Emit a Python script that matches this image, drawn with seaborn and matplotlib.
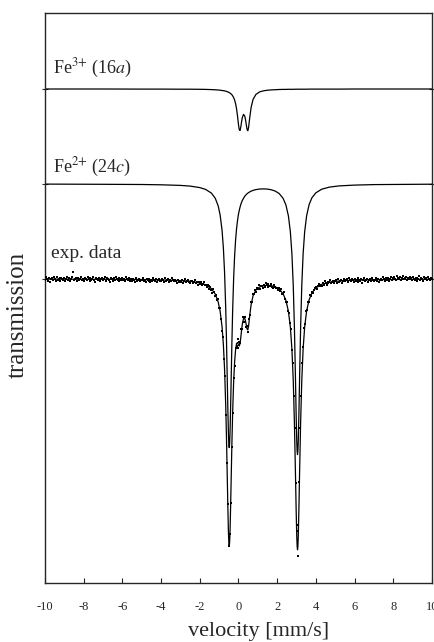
import numpy as np
import pandas as pd
import matplotlib
matplotlib.use("Agg")
import matplotlib.pyplot as plt
import seaborn as sns

# velocity grid of the fitted curves (mm/s)
vel_fit = [-10, -7, -5, -4, -3, -2.5, -2, -1.7, -1.4, -1.2,
           -1.05, -0.95, -0.85, -0.78, -0.72, -0.66, -0.62, -0.58, -0.55, -0.52,
           -0.50, -0.48, -0.46, -0.44, -0.41, -0.38, -0.34, -0.30, -0.25, -0.20,
           -0.15, -0.10, -0.05, 0.0, 0.04, 0.08, 0.12, 0.16, 0.20, 0.26,
           0.32, 0.36, 0.40, 0.44, 0.48, 0.52, 0.58, 0.65, 0.75, 0.9,
           1.1, 1.3, 1.5, 1.7, 1.9, 2.1, 2.3, 2.45, 2.58, 2.68,
           2.76, 2.83, 2.89, 2.94, 2.98, 3.01, 3.03, 3.05, 3.07, 3.09,
           3.12, 3.16, 3.21, 3.27, 3.34, 3.42, 3.52, 3.65, 3.8, 4.0,
           4.3, 4.7, 5.2, 6, 7, 8.5, 10]

# Fe3+ (16a) sub-spectrum
fe3_trans = [1.0000, 1.0000, 0.9999, 0.9999, 0.9998, 0.9998, 0.9997, 0.9996, 0.9994, 0.9992,
             0.9990, 0.9988, 0.9985, 0.9983, 0.9981, 0.9978, 0.9976, 0.9973, 0.9971, 0.9968,
             0.9966, 0.9964, 0.9962, 0.9959, 0.9955, 0.9950, 0.9942, 0.9931, 0.9914, 0.9889,
             0.9853, 0.9801, 0.9728, 0.9643, 0.9593, 0.9585, 0.9621, 0.9673, 0.9716, 0.9746,
             0.9731, 0.9696, 0.9647, 0.9599, 0.9583, 0.9614, 0.9712, 0.9813, 0.9895, 0.9946,
             0.9972, 0.9982, 0.9988, 0.9991, 0.9993, 0.9995, 0.9996, 0.9996, 0.9997, 0.9997,
             0.9997, 0.9997, 0.9997, 0.9998, 0.9998, 0.9998, 0.9998, 0.9998, 0.9998, 0.9998,
             0.9998, 0.9998, 0.9998, 0.9998, 0.9998, 0.9998, 0.9998, 0.9999, 0.9999, 0.9999,
             0.9999, 0.9999, 0.9999, 1.0000, 1.0000, 1.0000, 1.0000]

# Fe2+ (24c) sub-spectrum
fe2_trans = [0.9999, 0.9997, 0.9995, 0.9992, 0.9986, 0.9979, 0.9964, 0.9946, 0.9909, 0.9857,
             0.9781, 0.9691, 0.9537, 0.9355, 0.9116, 0.8754, 0.8427, 0.8040, 0.7745, 0.7502,
             0.7400, 0.7364, 0.7400, 0.7502, 0.7745, 0.8039, 0.8426, 0.8753, 0.9064, 0.9284,
             0.9441, 0.9554, 0.9636, 0.9699, 0.9737, 0.9769, 0.9796, 0.9817, 0.9836, 0.9858,
             0.9876, 0.9886, 0.9894, 0.9902, 0.9908, 0.9914, 0.9921, 0.9928, 0.9936, 0.9944,
             0.9950, 0.9951, 0.9949, 0.9942, 0.9929, 0.9905, 0.9858, 0.9791, 0.9680, 0.9522,
             0.9302, 0.8984, 0.8562, 0.8090, 0.7685, 0.7435, 0.7331, 0.7294, 0.7331, 0.7436,
             0.7686, 0.8091, 0.8562, 0.8985, 0.9304, 0.9524, 0.9682, 0.9795, 0.9864, 0.9912,
             0.9948, 0.9969, 0.9981, 0.9989, 0.9994, 0.9996, 0.9998]

# total fit through the measured spectrum
fit_trans = [0.9999, 0.9997, 0.9995, 0.9991, 0.9984, 0.9977, 0.9961, 0.9942, 0.9903, 0.9849,
             0.9770, 0.9679, 0.9522, 0.9339, 0.9097, 0.8732, 0.8403, 0.8013, 0.7716, 0.7470,
             0.7366, 0.7328, 0.7362, 0.7461, 0.7700, 0.7989, 0.8368, 0.8684, 0.8978, 0.9173,
             0.9294, 0.9355, 0.9364, 0.9342, 0.9330, 0.9355, 0.9417, 0.9490, 0.9552, 0.9604,
             0.9607, 0.9582, 0.9541, 0.9501, 0.9491, 0.9528, 0.9633, 0.9741, 0.9831, 0.9890,
             0.9921, 0.9933, 0.9937, 0.9933, 0.9922, 0.9900, 0.9854, 0.9787, 0.9676, 0.9519,
             0.9300, 0.8981, 0.8559, 0.8088, 0.7683, 0.7433, 0.7329, 0.7292, 0.7329, 0.7434,
             0.7684, 0.8089, 0.8560, 0.8983, 0.9302, 0.9522, 0.9680, 0.9793, 0.9863, 0.9911,
             0.9947, 0.9968, 0.9980, 0.9989, 0.9993, 0.9996, 0.9998]

# measured spectrum, one value per channel, -10 ... 10 mm/s in 0.05 steps
exp_trans = [
    0.999, 1.002, 1.000, 0.998, 1.001, 0.997, 1.000, 1.001, 0.999, 1.002,
    1.000, 0.998, 1.002, 0.999, 1.000, 1.001, 0.998, 1.001, 1.000, 0.999,
    1.001, 0.998, 1.000, 1.002, 0.999, 1.001, 0.998, 1.000, 1.002, 1.007,
    0.999, 1.000, 1.001, 0.998, 1.001, 0.999, 1.000, 1.002, 0.999, 1.000,
    0.998, 1.001, 1.000, 0.999, 1.002, 1.000, 0.998, 1.001, 0.999, 1.000,
    1.002, 0.999, 0.997, 1.001, 1.000, 0.999, 1.001, 0.998, 1.000, 1.001,
    0.999, 1.000, 1.002, 0.998, 1.001, 1.000, 0.999, 0.997, 1.001, 1.000,
    0.998, 1.001, 0.999, 1.002, 1.000, 0.999, 0.998, 1.001, 1.000, 0.999,
    1.001, 0.999, 1.000, 0.998, 1.002, 1.000, 0.999, 1.001, 0.998, 1.000,
    0.998, 1.000, 0.999, 0.997, 1.001, 0.998, 0.999, 1.000, 0.998, 0.999,
    0.999, 1.001, 0.998, 0.999, 0.997, 1.000, 0.999, 0.998, 1.000, 0.997,
    0.999, 0.998, 1.001, 0.999, 0.998, 1.000, 0.997, 0.999, 1.000, 0.998,
    0.998, 1.000, 0.999, 0.997, 1.001, 0.998, 0.999, 1.000, 0.997, 0.999,
    0.998, 1.001, 0.999, 0.998, 0.999, 0.998, 0.996, 0.999, 0.997, 0.998,
    0.998, 0.997, 0.999, 0.996, 0.998, 1.000, 0.997, 0.998, 0.999, 0.997,
    0.996, 0.998, 0.998, 0.996, 0.997, 0.999, 0.996, 0.997, 0.994, 0.997,
    0.995, 0.997, 0.994, 0.995, 0.997, 0.994, 0.994, 0.992, 0.994, 0.993,
    0.990, 0.992, 0.989, 0.986, 0.990, 0.987, 0.983, 0.984, 0.979, 0.980,
    0.971, 0.971, 0.960, 0.948, 0.942, 0.920, 0.903, 0.864, 0.816, 0.775,
    0.733, 0.745, 0.776, 0.832, 0.866, 0.901, 0.913, 0.931, 0.933, 0.940,
    0.931, 0.937, 0.936, 0.950, 0.950, 0.962, 0.957, 0.962, 0.952, 0.953,
    0.947, 0.960, 0.964, 0.977, 0.977, 0.985, 0.985, 0.989, 0.987, 0.991,
    0.990, 0.994, 0.990, 0.993, 0.993, 0.991, 0.994, 0.992, 0.996, 0.994,
    0.992, 0.995, 0.993, 0.993, 0.995, 0.992, 0.991, 0.994, 0.992, 0.991,
    0.991, 0.989, 0.991, 0.988, 0.990, 0.985, 0.985, 0.987, 0.980, 0.977,
    0.977, 0.968, 0.966, 0.956, 0.950, 0.929, 0.916, 0.883, 0.851, 0.796,
    0.748, 0.723, 0.754, 0.797, 0.851, 0.883, 0.916, 0.932, 0.951, 0.955,
    0.968, 0.969, 0.977, 0.977, 0.984, 0.983, 0.987, 0.986, 0.989, 0.991,
    0.992, 0.990, 0.993, 0.995, 0.993, 0.994, 0.993, 0.996, 0.994, 0.998,
    0.996, 0.994, 0.997, 0.996, 0.997, 0.999, 0.996, 0.997, 0.998, 0.996,
    0.998, 0.999, 0.996, 1.000, 0.997, 0.998, 0.999, 0.996, 0.998, 1.000,
    0.998, 0.999, 1.000, 0.997, 1.001, 0.999, 0.998, 1.000, 0.999, 0.997,
    1.000, 0.998, 0.999, 0.997, 1.001, 0.999, 0.998, 1.000, 0.996, 0.999,
    1.001, 0.998, 0.999, 1.000, 0.997, 0.999, 1.000, 0.998, 1.001, 0.999,
    0.998, 0.999, 1.001, 0.998, 1.000, 0.997, 0.999, 1.000, 0.999, 1.002,
    1.000, 0.998, 1.001, 1.000, 0.999, 1.001, 0.998, 1.000, 1.002, 0.999,
    1.001, 1.002, 1.000, 0.999, 1.003, 1.001, 1.000, 1.002, 0.999, 1.001,
    1.003, 1.000, 1.001, 1.002, 0.999, 1.001, 1.000, 1.002, 1.001, 0.999,
    1.002, 1.000, 0.999, 1.001, 0.998, 1.001, 1.000, 1.003, 0.999, 1.001,
    1.000, 0.998, 1.002, 1.000, 1.001, 0.999, 1.002, 1.000, 0.999, 1.001,
    1.000]
assert len(exp_trans) == 401, len(exp_trans)
vel_exp = np.linspace(-10, 10, len(exp_trans))

# vertical shift of the stacked sub-spectra
offset_fe2 = 0.095
offset_fe3 = 0.19

sns.set_style("ticks")
plt.rcParams["font.family"] = ["Liberation Serif", "DejaVu Serif"]
plt.rcParams["mathtext.fontset"] = "stix"
plt.rcParams["axes.unicode_minus"] = False

fig = plt.figure(figsize=(4.35, 6.42), dpi=100)
ax = fig.add_axes([45 / 435, 1 - 583 / 642, 387 / 435, 570 / 642])

fits = pd.DataFrame({"velocity": vel_fit, "fe3": fe3_trans,
                     "fe2": fe2_trans, "fit": fit_trans})
fits["fe3"] += offset_fe3
fits["fe2"] += offset_fe2
meas = pd.DataFrame({"velocity": vel_exp, "trans": exp_trans})

for col in ["fe3", "fe2", "fit"]:
    sns.lineplot(data=fits, x="velocity", y=col, color="black", lw=0.9,
                 estimator=None, sort=False, ax=ax)
sns.scatterplot(data=meas, x="velocity", y="trans", color="black", marker="s",
                s=4, linewidth=0, ax=ax, zorder=3)

ax.text(-9.6, 1.0 + offset_fe3 + 0.016, "Fe$^{3{+}}$ (16$a$)", fontsize=13)
ax.text(-9.6, 1.0 + offset_fe2 + 0.012, "Fe$^{2{+}}$ (24$c$)", fontsize=13)
ax.text(-9.7, 1.021, "exp. data", fontsize=14)

ax.set_xlim(-10, 10)
ax.set_ylim(0.696, 1.266)
ax.set_xticks(np.arange(-10, 11, 2))
ax.set_yticks([1.0, 1.0 + offset_fe2, 1.0 + offset_fe3])
ax.set_yticklabels([])
ax.tick_params(axis="x", direction="in", length=3.5, width=0.8, labelsize=9,
               pad=13, top=False)
ax.tick_params(axis="y", direction="inout", length=4, width=0.8, left=True,
               right=True)
for sp in ax.spines.values():
    sp.set_visible(True)
    sp.set_linewidth(1.0)

ax.set_xlabel("velocity [mm/s]", fontsize=16)
ax.xaxis.set_label_coords((258.5 - 45) / 387, -0.068)
ax.set_ylabel("transmission", fontsize=18)
ax.yaxis.set_label_coords(-0.041, 0.47)

fig.savefig("out.png", dpi=100)
